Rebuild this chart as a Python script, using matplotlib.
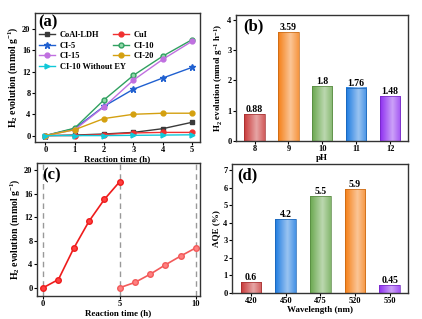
import numpy as np
import matplotlib
matplotlib.use("Agg")
import matplotlib.pyplot as plt
from matplotlib.colors import to_rgb

plt.rcParams["font.family"] = ["Liberation Serif", "DejaVu Serif"]
plt.rcParams["font.weight"] = "bold"
plt.rcParams["mathtext.fontset"] = "custom"
plt.rcParams["mathtext.rm"] = "Liberation Serif:bold"
plt.rcParams["mathtext.it"] = "Liberation Serif:bold"
plt.rcParams["axes.labelweight"] = "bold"

# (a) time course for each sample
hours = [0, 1, 2, 3, 4, 5]
coal_ldh = [0, 0.1, 0.3, 0.6, 1.3, 2.5]
cui = [0, 0.0, 0.2, 0.5, 0.6, 0.6]
ci5 = [0, 1.3, 5.5, 8.7, 10.8, 12.8]
ci10 = [0, 1.4, 6.7, 11.3, 14.9, 18.0]
ci15 = [0, 1.1, 5.4, 10.4, 14.3, 17.7]
ci20 = [0, 1.1, 3.2, 4.0, 4.2, 4.2]
ci10_no_ey = [0, 0.0, 0.0, 0.05, 0.1, 0.15]

# (b) pH
ph_labels = ["8", "9", "10", "11", "12"]
ph_rates = [0.88, 3.59, 1.8, 1.76, 1.48]

# (c) cycling
cycle1_t = [0, 1, 2, 3, 4, 5]
cycle1_h2 = [0, 1.4, 6.7, 11.3, 15.0, 18.0]
cycle2_t = [5, 6, 7, 8, 9, 10]
cycle2_h2 = [0, 0.9, 2.3, 3.9, 5.4, 6.8]

# (d) AQE
wl_labels = ["420", "450", "475", "520", "550"]
aqe = [0.6, 4.2, 5.5, 5.9, 0.45]

fig = plt.figure(figsize=(4.22, 3.19), dpi=100)
W, H = 422, 319


def make_ax(l, t, r, b):
    return fig.add_axes([l / W, 1 - b / H, (r - l) / W, (b - t) / H])


def style(ax):
    for s in ax.spines.values():
        s.set_linewidth(1.0)
        s.set_color("#333333")
    ax.tick_params(labelsize=6, width=0.8, length=2.2, pad=1)


def grad_bars(ax, values, colors, labels, fmt_labels):
    x = np.arange(len(values))
    w = 0.6
    for i, (v, c) in enumerate(zip(values, colors)):
        base = np.array(to_rgb(c))
        light = base + (1 - base) * 0.55
        t = np.linspace(0, 1, 50)
        prof = np.clip(np.abs(t - 0.6) / 0.6, 0, 1)
        img = light[None, :] * (1 - prof[:, None]) + base[None, :] * prof[:, None]
        ax.imshow(img[None, :, :], extent=[i - w / 2, i + w / 2, 0, v],
                  aspect="auto", zorder=2)
        ax.add_patch(plt.Rectangle((i - w / 2, 0), w, v, fill=False,
                                   ec=base * 0.8, lw=0.5, zorder=3))
        ax.text(i, v, fmt_labels[i], ha="center", va="bottom", fontsize=7,
                fontweight="bold")
    ax.set_xticks(x)
    ax.set_xticklabels(labels)
    ax.set_xlim(-0.55, len(values) - 0.47)


# (a)
ax = make_ax(35, 13, 200, 142)
style(ax)
ms = 3.5
h1, = ax.plot(hours, coal_ldh, "-s", color="#3a3a3a", ms=ms, lw=1, label="CoAl-LDH")
h2, = ax.plot(hours, cui, "-o", color="#f03030", ms=ms, lw=1, label="CuI")
h3, = ax.plot(hours, ci5, "-*", color="#2060d0", ms=ms + 1, lw=1, label="CI-5")
h4, = ax.plot(hours, ci10, "-o", color="#30a060", mfc="#90d8a8", ms=ms, lw=1, label="CI-10")
h5, = ax.plot(hours, ci15, "-o", color="#c070e0", ms=ms, lw=1, label="CI-15")
h6, = ax.plot(hours, ci20, "-o", color="#d4a010", ms=ms, lw=1, label="CI-20")
h7, = ax.plot(hours, ci10_no_ey, "->", color="#10c8d8", ms=ms, lw=1, label="CI-10 Without EY")
ax.set_xlim(-0.35, 5.27)
ax.set_ylim(-1.2, 23)
ax.set_yticks([0, 4, 8, 12, 16, 20])
ax.set_xticks(hours)
ax.set_xlabel("Reaction time (h)", fontsize=6.5, labelpad=0.5)
ax.set_ylabel("H$_2$ evolution (mmol g$^{-1}$)", fontsize=7, labelpad=1.5)
leg_kw = dict(loc="upper left", frameon=False, fontsize=6, handlelength=1.9,
              labelspacing=0.3, handletextpad=0.6, borderpad=0, borderaxespad=0)
leg1 = ax.legend([h1, h3, h5, h7], [h.get_label() for h in [h1, h3, h5, h7]],
                 bbox_to_anchor=(0.024, 0.86), **leg_kw)
ax.add_artist(leg1)
ax.legend([h2, h4, h6], [h.get_label() for h in [h2, h4, h6]],
          bbox_to_anchor=(0.473, 0.86), **leg_kw)
ax.text(0.02, 0.99, "(a)", transform=ax.transAxes, fontsize=12, fontweight="bold",
        va="top")

# (b)
ax = make_ax(236, 15, 408, 141)
style(ax)
grad_bars(ax, ph_rates, ["#c83838", "#f57f17", "#6aa84f", "#1e7be0", "#8e2ff0"],
          ph_labels, ["0.88", "3.59", "1.8", "1.76", "1.48"])
ax.set_ylim(0, 4.15)
ax.set_yticks([0, 1, 2, 3, 4])
ax.set_xlabel("pH", fontsize=6.5, labelpad=0.5)
ax.set_ylabel("H$_2$ evolution (mmol g$^{-1}$ h$^{-1}$)", fontsize=6.5, labelpad=2)
ax.text(0.04, 0.97, "(b)", transform=ax.transAxes, fontsize=12, fontweight="bold",
        va="top")

# (c)
ax = make_ax(37, 163, 200, 296)
style(ax)
for xv in [0, 5, 10]:
    ax.axvline(xv, color="#999999", ls=(0, (4, 3)), lw=1, zorder=1)
ax.plot(cycle1_t, cycle1_h2, "-o", color="#ee1c1c", mfc="#ff4040", ms=4, lw=1.2)
ax.plot(cycle2_t, cycle2_h2, "-o", color="#f25a5a", mfc="#ff8080", ms=4, lw=1.2)
ax.set_xlim(-0.4, 10.26)
ax.set_ylim(-1.4, 21.2)
ax.set_yticks([0, 4, 8, 12, 16, 20])
ax.set_xticks([0, 5, 10])
ax.set_xlabel("Reaction time (h)", fontsize=6.5, labelpad=0.5)
ax.set_ylabel("H$_2$ evolution (mmol g$^{-1}$)", fontsize=7, labelpad=1.5)
ax.text(0.03, 0.97, "(c)", transform=ax.transAxes, fontsize=12, fontweight="bold",
        va="top")

# (d)
ax = make_ax(232, 164, 408, 293)
style(ax)
grad_bars(ax, aqe, ["#c83838", "#1e7be0", "#6aa84f", "#f57f17", "#8e2ff0"],
          wl_labels, ["0.6", "4.2", "5.5", "5.9", "0.45"])
ax.set_ylim(0, 7.35)
ax.set_yticks(range(8))
ax.set_xlabel("Wavelength (nm)", fontsize=6.5, labelpad=0.5)
ax.set_ylabel("AQE (%)", fontsize=6.5, labelpad=2)
ax.text(0.03, 0.97, "(d)", transform=ax.transAxes, fontsize=12, fontweight="bold",
        va="top")

fig.savefig("out.png", dpi=100)
